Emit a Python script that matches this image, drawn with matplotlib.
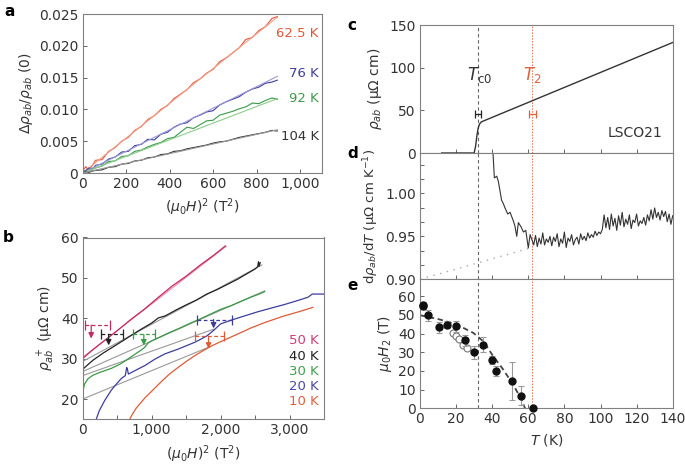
import numpy as np
import matplotlib.pyplot as plt
from matplotlib.ticker import MultipleLocator, FuncFormatter

plt.rcParams['font.family'] = 'DejaVu Sans'
plt.rcParams['mathtext.fontset'] = 'dejavusans'

# ---------------- panel a : magnetoresistance vs H^2 ----------------
a_h2 = [0, 15, 30, 45, 60, 90, 120, 150, 180, 210, 240, 270, 300, 330, 360, 390, 420,
        450, 480, 510, 540, 570, 600, 630, 660, 690, 720, 750, 780, 810, 840, 870, 895]
a_625K = [0.0003, 0.0010, 0.0004, 0.0012, 0.0020, 0.0021, 0.0034, 0.0040, 0.0050, 0.0056,
          0.0067, 0.0073, 0.0084, 0.0090, 0.0100, 0.0106, 0.0117, 0.0124, 0.0131, 0.0142,
          0.0148, 0.0157, 0.0163, 0.0175, 0.0181, 0.0189, 0.0197, 0.0210, 0.0213, 0.0224,
          0.0230, 0.0243, 0.0246]
a_76K = [0.0002, 0.0004, 0.0008, 0.0006, 0.0012, 0.0014, 0.0022, 0.0025, 0.0033, 0.0034,
         0.0043, 0.0045, 0.0053, 0.0052, 0.0061, 0.0064, 0.0072, 0.0077, 0.0079, 0.0087,
         0.0091, 0.0096, 0.0098, 0.0107, 0.0112, 0.0116, 0.0120, 0.0127, 0.0132, 0.0135,
         0.0141, 0.0143, 0.0146]
a_92K = [0.0001, 0.0003, 0.0002, 0.0006, 0.0008, 0.0011, 0.0018, 0.0019, 0.0026, 0.0027,
         0.0034, 0.0036, 0.0041, 0.0045, 0.0048, 0.0054, 0.0056, 0.0064, 0.0072, 0.0070,
         0.0076, 0.0082, 0.0083, 0.0091, 0.0094, 0.0097, 0.0101, 0.0104, 0.0110, 0.0109,
         0.0114, 0.0118, 0.0116]
a_104K = [0.0000, 0.0002, 0.0001, 0.0003, 0.0004, 0.0005, 0.0009, 0.0010, 0.0014, 0.0015,
          0.0019, 0.0020, 0.0024, 0.0025, 0.0029, 0.0030, 0.0034, 0.0035, 0.0038, 0.0040,
          0.0042, 0.0044, 0.0047, 0.0049, 0.0050, 0.0053, 0.0056, 0.0058, 0.0060, 0.0062,
          0.0064, 0.0067, 0.0066]
a_fit_x = [0, 895]
a_fits = {'62.5 K': [0, 0.0245], '76 K': [0, 0.0152], '92 K': [0, 0.0117], '104 K': [0, 0.0068]}
a_label_y = [0.0220, 0.0157, 0.0117, 0.0058]

# ---------------- panel b : rho+ vs H^2 ----------------
b50_x = [0, 100, 200, 350, 500, 700, 900, 1100, 1300, 1500, 1700, 1900, 2070]
b50_y = [30.0, 31.5, 32.9, 34.9, 36.9, 39.7, 42.3, 45.2, 48.0, 50.4, 53.1, 55.6, 57.9]
b40_x = [0, 50, 150, 300, 450, 600, 709, 850, 1000, 1100, 1200, 1350, 1500, 1650, 1800,
         1950, 2100, 2250, 2400, 2500, 2540, 2550, 2560, 2575]
b40_y = [27.3, 28.1, 29.6, 31.4, 33.0, 34.6, 35.8, 37.3, 38.8, 40.1, 40.6, 42.0, 43.3, 44.5,
         46.0, 47.1, 48.4, 49.7, 51.2, 52.2, 52.8, 54.0, 52.9, 53.8]
b30_x = [0, 10, 30, 77, 150, 250, 417, 550, 700, 855, 900, 952, 1000, 1100, 1250, 1400,
         1550, 1700, 1850, 2000, 2150, 2300, 2450, 2560, 2640]
b30_y = [21.0, 22.3, 23.7, 25.0, 25.9, 26.6, 27.6, 28.7, 30.4, 32.2, 32.8, 33.9, 34.4, 35.2,
         36.4, 37.5, 38.7, 39.8, 41.0, 42.2, 43.1, 44.2, 45.3, 46.0, 46.6]
b20_x = [199, 240, 320, 417, 500, 563, 620, 640, 650, 665, 700, 800, 904, 1050, 1195, 1390,
         1632, 1800, 1900, 1950, 2000, 2148, 2350, 2537, 2750, 2925, 3100, 3266, 3330, 3500]
b20_y = [15.0, 17.0, 19.6, 22.2, 23.9, 25.1, 25.8, 27.8, 27.5, 26.2, 26.5, 27.4, 28.3, 29.9,
         31.2, 32.4, 34.1, 35.6, 37.0, 37.8, 38.6, 39.5, 40.6, 41.6, 42.6, 43.4, 44.3, 45.2,
         46.0, 46.0]
b10_x = [685, 720, 780, 850, 904, 1000, 1147, 1260, 1390, 1510, 1632, 1750, 1875, 2000,
         2118, 2300, 2439, 2650, 2925, 3150, 3338]
b10_y = [15.0, 16.2, 17.8, 19.2, 20.3, 21.9, 24.4, 26.2, 27.9, 29.4, 30.8, 32.0, 33.2, 34.2,
         35.1, 36.5, 37.6, 39.0, 40.6, 41.7, 42.7]
# straight fits: (x0, y0, x1, y1)
b_fits = [(0, 30.3, 2080, 57.8), (0, 29.3, 2600, 53.2), (0, 26.8, 2640, 46.8),
          (0, 25.8, 1900, 37.3), (0, 20.0, 1850, 33.0)]
# H2 markers: arrow x, bar y, arrow tip y, bar left, bar right
b_arrow_x = [126, 379, 889, 1900, 1827]
b_bar_y = [38.3, 36.0, 36.0, 39.7, 35.6]
b_tip_y = [35.0, 33.3, 33.3, 37.5, 32.5]
b_bar_lo = [38, 274, 733, 1657, 1633]
b_bar_hi = [394, 588, 1050, 2167, 2055]
b_labels = ['50 K', '40 K', '30 K', '20 K', '10 K']
b_label_y = [34.6, 30.6, 26.9, 23.2, 19.4]

# ---------------- panel c : rho_ab(T) ----------------
c_T = [12, 30, 30.8, 31.5, 32.2, 33, 34, 140]
c_rho = [0, 0, 8, 20, 29, 34, 36.5, 129.5]
Tc0 = 32
T2 = 62

# ---------------- panel d : d rho / dT ----------------
d_T = [40.1, 41.2, 42.5, 43.4, 44.3, 45.2, 46.2, 47.1, 48.6, 49.9, 51.7, 52.6, 53.6, 54.5,
       56.0, 57.3, 58.6, 60.0, 61.0,
       62, 63, 64, 65, 66, 67, 68, 69, 70, 71, 72, 73, 74, 75, 76, 77, 78, 79, 80, 81, 82,
       83, 84, 85, 86, 87, 88, 89, 90, 91, 92, 93, 94, 95, 96, 97, 98, 99, 100, 101, 102,
       103, 104, 105, 106, 107, 108, 109, 110, 111, 112, 113, 114, 115, 116, 117, 118, 119,
       120, 121, 122, 123, 124, 125, 126, 127, 128, 129, 130, 131, 132, 133, 134, 135, 136,
       137, 138, 139, 140]
d_val = [1.060, 1.018, 1.020, 1.014, 1.003, 0.992, 0.988, 0.983, 0.976, 0.978, 0.968, 0.962,
         0.950, 0.966, 0.961, 0.955, 0.957, 0.9365, 0.952,
         0.946, 0.940, 0.951, 0.938, 0.948, 0.941, 0.954, 0.940, 0.947, 0.943, 0.950, 0.939,
         0.949, 0.944, 0.953, 0.938, 0.947, 0.942, 0.955, 0.937, 0.948, 0.944, 0.952, 0.940,
         0.946, 0.949, 0.941, 0.953, 0.946, 0.950, 0.945, 0.954, 0.948, 0.952, 0.949, 0.956,
         0.951, 0.955, 0.953, 0.958, 0.975, 0.960, 0.972, 0.958, 0.976, 0.962, 0.971, 0.957,
         0.974, 0.963, 0.978, 0.961, 0.970, 0.964, 0.975, 0.959, 0.969, 0.966, 0.976, 0.962,
         0.968, 0.965, 0.972, 0.963, 0.975, 0.968, 0.981, 0.970, 0.983, 0.972, 0.978, 0.969,
         0.980, 0.973, 0.979, 0.967, 0.976, 0.964, 0.974]
d_line_T = [0, 62]
d_line_val = [0.900, 0.937]

# ---------------- panel e : mu0 H2(T) ----------------
e_T = [1.5, 1.8, 4.2, 10.3, 15.1, 20.1, 25.1, 30.1, 35.1, 40.1, 42.1, 51.0, 56.1, 62.4]
e_H2 = [55.5, 54.6, 49.8, 43.3, 44.8, 43.9, 36.4, 29.9, 33.9, 25.8, 19.9, 14.5, 6.8, 0.0]
e_err = [1.5, 1.5, 3.0, 3.0, 2.0, 3.0, 3.0, 3.5, 4.0, 2.0, 2.5, 10.0, 5.0, 0.0]
e_open_T = [18.1, 20.0, 21.8, 24.0, 26.0]
e_open_H2 = [40.1, 38.7, 37.1, 34.0, 32.0]
e_fit_T = [0, 11, 20.3, 29.6, 35.1, 40.6, 46.2, 51.7, 56.3, 58.2]
e_fit_H2 = [49.8, 47.5, 44.8, 40.3, 35.8, 27.8, 20.6, 12.5, 4.5, 0.0]

# ---------------- figure ----------------
fig = plt.figure(figsize=(6.85, 4.65), dpi=100)
W, H = 685.0, 465.0


def rect(l, t, r, b):
    return [l / W, 1 - b / H, (r - l) / W, (b - t) / H]


axa = fig.add_axes(rect(82.5, 14, 322, 173))
axb = fig.add_axes(rect(82.5, 237.5, 324, 419.3))
axc = fig.add_axes(rect(420, 25, 672.7, 153))
axd = fig.add_axes(rect(420, 153, 672.7, 279.3))
axe = fig.add_axes(rect(420, 279.3, 672.7, 408.3))

txt = '#333333'
for ax in (axa, axb, axc, axd, axe):
    for s in ax.spines.values():
        s.set_color('#808080')
        s.set_linewidth(0.8)
    ax.tick_params(which='both', direction='in', length=3, width=0.7, color='#666666',
                   labelsize=10, labelcolor=txt, pad=3)

comma = FuncFormatter(lambda v, p: f'{v:,.0f}')

# panel a
cols_a = ['#e2553a', '#3d3d9e', '#3a9a48', '#333333']
fit_cols_a = ['#f2a08a', '#9a9ad8', '#8ccc8c', '#999999']
for ys, c, fc, (lab, fy), ly in zip([a_625K, a_76K, a_92K, a_104K], cols_a, fit_cols_a,
                                    a_fits.items(), a_label_y):
    axa.plot(a_h2, ys, color=c, lw=0.8)
    axa.plot(a_fit_x, fy, color=fc, lw=0.8)
    axa.text(1085, ly, lab, color=c, fontsize=9.5, ha='right', va='center')
axa.set_xlim(0, 1100)
axa.set_ylim(0, 0.025)
axa.xaxis.set_major_locator(MultipleLocator(200))
axa.yaxis.set_major_locator(MultipleLocator(0.005))
axa.xaxis.set_major_formatter(comma)
axa.yaxis.set_major_formatter(FuncFormatter(lambda v, p: '0' if v == 0 else f'{v:.3f}'))
axa.set_xlabel(r'($\mu_0H$)$^2$ (T$^2$)', fontsize=10, color=txt, labelpad=4)
axa.set_ylabel(r'$\Delta\rho_{ab}/\rho_{ab}$ (0)', fontsize=10, color=txt, labelpad=3)

# panel b
cols_b = ['#c42a62', '#222222', '#3a9a48', '#3d3d9e', '#df5a35']
lab_cols_b = ['#d23a72', '#222222', '#3fa048', '#4848a8', '#e2603a']
fit_cols_b = ['#e68ab0', '#999999', '#999999', '#999999', '#999999']
for (x0, y0, x1, y1), fc in zip(b_fits, fit_cols_b):
    axb.plot([x0, x1], [y0, y1], color=fc, lw=0.8)
for xs, ys, c in zip([b50_x, b40_x, b30_x, b20_x, b10_x],
                     [b50_y, b40_y, b30_y, b20_y, b10_y], cols_b):
    axb.plot(xs, ys, color=c, lw=0.9)
for i, c in enumerate(cols_b):
    axb.plot([b_bar_lo[i], b_bar_hi[i]], [b_bar_y[i]] * 2, color=c, lw=0.9, ls=(0, (3, 2)))
    axb.plot([b_bar_lo[i], b_bar_hi[i]], [b_bar_y[i]] * 2, color=c, ls='none', marker='|',
             ms=7, mew=0.9)
    axb.annotate('', xy=(b_arrow_x[i], b_tip_y[i]), xytext=(b_arrow_x[i], b_bar_y[i]),
                 arrowprops=dict(arrowstyle='-|>', color=c, lw=0.9, mutation_scale=8,
                                 shrinkA=0, shrinkB=0))
    axb.text(3420, b_label_y[i], b_labels[i], color=lab_cols_b[i], fontsize=9.5,
             ha='right', va='center')
axb.set_xlim(0, 3500)
axb.set_ylim(15, 60)
axb.xaxis.set_major_locator(MultipleLocator(1000))
axb.xaxis.set_minor_locator(MultipleLocator(500))
axb.yaxis.set_major_locator(MultipleLocator(10))
axb.xaxis.set_major_formatter(comma)
axb.set_xlabel(r'($\mu_0H$)$^2$ (T$^2$)', fontsize=10, color=txt, labelpad=4)
axb.set_ylabel(r'$\rho_{ab}^{\ +}$ (μΩ cm)', fontsize=10, color=txt, labelpad=3)

# panels c-e shared T axis
for ax in (axc, axd, axe):
    ax.set_xlim(0, 140)
    ax.xaxis.set_major_locator(MultipleLocator(20))
    ax.axvline(Tc0, color='#666666', lw=0.8, ls=(0, (3, 2.5)))
    ax.axvline(T2, color='#e8704e', lw=0.7, ls=(0, (1.5, 1.5)))
for ax in (axc, axd):
    ax.tick_params(axis='x', labelbottom=False)

axc.plot(c_T, c_rho, color='#333333', lw=1.0, clip_on=False)
axc.errorbar([Tc0], [46], xerr=[[1.4], [1.6]], fmt='none', ecolor='#222222', elinewidth=0.9,
             capsize=3, capthick=0.9)
axc.errorbar([T2], [46], xerr=[[1.8], [2.0]], fmt='none', ecolor='#e2603a', elinewidth=0.9,
             capsize=3, capthick=0.9)
axc.text(33, 91.5, r'$T_{\rm c0}$', color='#333333', fontsize=12, ha='center', va='center')
axc.text(62, 91.5, r'$T_2$', color='#e2603a', fontsize=12, ha='center', va='center')
axc.text(119, 23, 'LSCO21', color='#333333', fontsize=10, ha='center', va='center')
axc.set_ylim(0, 150)
axc.yaxis.set_major_locator(MultipleLocator(50))
axc.set_ylabel(r'$\rho_{ab}$ (μΩ cm)', fontsize=10, color=txt, labelpad=4)

axd.plot(d_line_T, d_line_val, color='#aaaaaa', lw=1.0, ls=(0, (1, 4)))
axd.plot(d_T, d_val, color='#333333', lw=0.8)
axd.set_ylim(0.90, 1.047)
axd.yaxis.set_major_locator(MultipleLocator(0.05))
axd.yaxis.set_minor_locator(MultipleLocator(0.05 / 3))
axd.yaxis.set_major_formatter(FuncFormatter(lambda v, p: f'{v:.2f}'))
axd.set_ylabel(r'd$\rho_{ab}$/d$T$ (μΩ cm K$^{-1}$)', fontsize=9.5, color=txt,
               labelpad=3)

axe.plot(e_fit_T, e_fit_H2, color='#444444', lw=1.3, ls=(0, (3, 2)))
axe.errorbar(e_T, e_H2, yerr=e_err, fmt='o', color='#111111', ms=5, ecolor='#999999',
             elinewidth=0.8, capsize=2, capthick=0.8, clip_on=False, zorder=3)
axe.plot(e_open_T, e_open_H2, 'o', mfc='white', mec='#777777', ms=5, mew=0.8)
axe.set_ylim(0, 69)
axe.yaxis.set_major_locator(MultipleLocator(10))
axe.set_xlabel(r'$T$ (K)', fontsize=10, color=txt, labelpad=4)
axe.set_ylabel(r'$\mu_0H_2$ (T)', fontsize=10, color=txt, labelpad=3)

# panel letters
for lab, x, y in [('a', 4, 12), ('b', 3, 237), ('c', 347, 25), ('d', 347, 153),
                  ('e', 347, 285)]:
    fig.text(x / W, 1 - y / H, lab, fontsize=11, fontweight='bold', va='center',
             ha='left')

fig.savefig('out.png', dpi=100)
